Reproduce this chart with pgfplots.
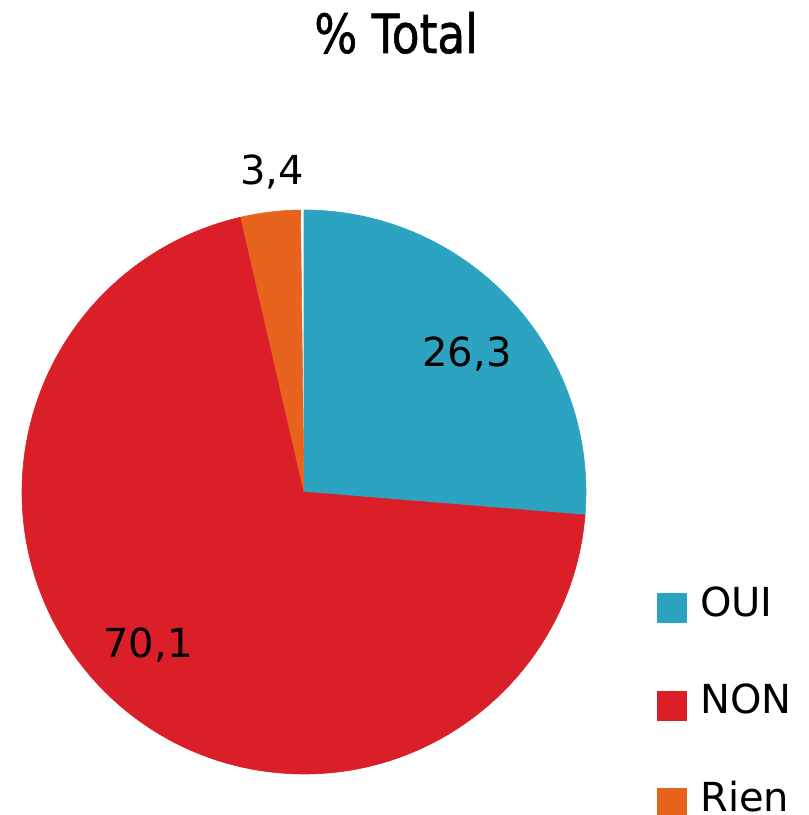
\documentclass[border=0pt]{standalone}
\usepackage{pgfplots}
\usepackage{pgfplotstable}
\pgfplotsset{compat=1.18}
\usepackage{fontspec}
\setmainfont{DejaVu Sans}
\newfontfamily\titlefont[FakeBold=1.2]{DejaVu Sans}
\definecolor{cOUI}{HTML}{2CA3C1}
\definecolor{cNON}{HTML}{DA1F29}
\definecolor{cRien}{HTML}{E8631E}
\pgfplotstableread{
label value
OUI 26.3
NON 70.1
Rien 3.4
}\piedata
\begin{document}
\begin{tikzpicture}
\pgfplotstablegetelem{0}{value}\of\piedata \let\vA\pgfplotsretval
\pgfplotstablegetelem{1}{value}\of\piedata \let\vB\pgfplotsretval
\pgfplotstablegetelem{2}{value}\of\piedata \let\vC\pgfplotsretval
\begin{axis}[
  hide axis, scale only axis, clip=false,
  x=1pt, y=1pt, xmin=0, xmax=809, ymin=0, ymax=815,
]
\path (axis cs:0,0) rectangle (axis cs:809,815);
\pgfmathsetmacro{\aA}{90}
\pgfmathsetmacro{\aB}{90-3.6*\vA}
\pgfmathsetmacro{\aC}{\aB-3.6*\vB}
\pgfmathsetmacro{\aD}{\aC-3.6*\vC}
\def\R{282}
\filldraw[cOUI, line width=0.6pt, line join=round] (axis cs:304,323) -- (axis cs:{304+\R*cos(\aA)},{323+\R*sin(\aA)}) arc[start angle=\aA, end angle=\aB, radius=\R pt] -- cycle;
\filldraw[cNON, line width=0.6pt, line join=round] (axis cs:304,323) -- (axis cs:{304+\R*cos(\aB)},{323+\R*sin(\aB)}) arc[start angle=\aB, end angle=\aC, radius=\R pt] -- cycle;
\filldraw[cRien, line width=0.6pt, line join=round] (axis cs:304,323) -- (axis cs:{304+\R*cos(\aC)},{323+\R*sin(\aC)}) arc[start angle=\aC, end angle=\aD, radius=\R pt] -- cycle;
\node[anchor=base, font=\fontsize{40}{48}\selectfont] at (axis cs:467,448) {26,3};
\node[anchor=base, font=\fontsize{40}{48}\selectfont] at (axis cs:148,157) {70,1};
\node[anchor=base, font=\fontsize{40}{48}\selectfont] at (axis cs:272,630) {3,4};
\node[anchor=base, font=\titlefont\fontsize{54}{60}\selectfont, xscale=0.84] at (axis cs:396,762) {\% Total};
\fill[cOUI] (axis cs:657,192) rectangle (axis cs:687,222);
\fill[cNON] (axis cs:657,94) rectangle (axis cs:687,124);
\fill[cRien] (axis cs:657,0) rectangle (axis cs:687,27);
\node[anchor=base west, inner sep=0pt, font=\fontsize{40}{48}\selectfont] at (axis cs:700,198) {OUI};
\node[anchor=base west, inner sep=0pt, font=\fontsize{40}{48}\selectfont] at (axis cs:700,101) {NON};
\node[anchor=base west, inner sep=0pt, font=\fontsize{40}{48}\selectfont] at (axis cs:700,4) {Rien};
\end{axis}
\end{tikzpicture}
\end{document}
